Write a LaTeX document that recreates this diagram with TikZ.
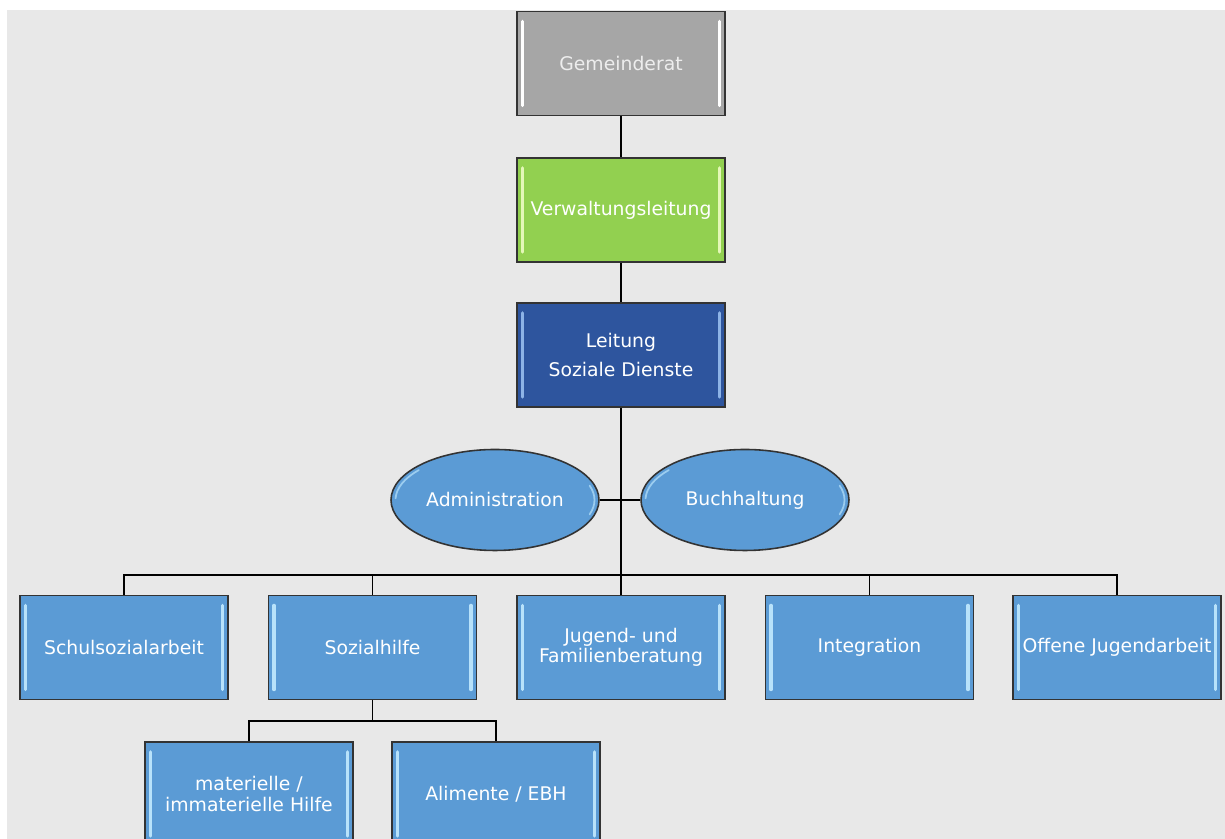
\documentclass[tikz,border=0pt]{standalone}
\usepackage{fontspec}
\usetikzlibrary{shapes.geometric}
\newfontfamily\orgfont{DejaVu Sans}
\definecolor{bggray}{HTML}{E8E8E8}
\definecolor{boxgray}{HTML}{A6A6A6}
\definecolor{boxgreen}{HTML}{92D050}
\definecolor{boxnavy}{HTML}{2E559E}
\definecolor{boxblue}{HTML}{5B9BD5}
\definecolor{hlblue}{HTML}{B8E2FA}
\definecolor{hlgreen}{HTML}{E4F7B8}
\definecolor{hlnavy}{HTML}{8DB3E6}
\tikzset{
	hlcolor/.store in=\hlcol, hlcolor=white,
	orgbox/.style={rectangle, draw=black!80, line width=0.9pt, fill=boxblue,
		minimum width=4.16cm, minimum height=2.08cm, inner sep=0pt,
		text=white, align=center, font=\orgfont\fontsize{10.7}{16}\selectfont,
		path picture={
			\draw[\hlcol, line width=2pt, line cap=round]
				([xshift=0.11cm,yshift=-0.2cm]path picture bounding box.north west) --
				([xshift=0.11cm,yshift=0.2cm]path picture bounding box.south west)
				([xshift=-0.11cm,yshift=-0.2cm]path picture bounding box.north east) --
				([xshift=-0.11cm,yshift=0.2cm]path picture bounding box.south east);
		}},
	orgoval/.style={ellipse, draw=black!80, line width=0.9pt, fill=boxblue,
		minimum width=4.16cm, minimum height=2.02cm, inner sep=0pt,
		text=white, font=\orgfont\fontsize{10.7}{16}\selectfont,
		path picture={
			\draw[hlblue!70!boxblue, line width=1pt, line cap=round]
				([shift={(140:1.99cm and 0.93cm)}]path picture bounding box.center)
				arc[start angle=140, end angle=178, x radius=1.99cm, y radius=0.93cm]
				([shift={(-18:1.99cm and 0.93cm)}]path picture bounding box.center)
				arc[start angle=-18, end angle=18, x radius=1.99cm, y radius=0.93cm];
		}},
	link/.style={draw=black, line width=1.1pt}
}
\begin{document}
\begin{tikzpicture}
	\useasboundingbox (0,0) rectangle (24.5,16.78);
	\clip (0,0) rectangle (24.5,16.78);
	\fill[bggray] (0.14,0) rectangle (24.5,16.58);
	% upper chain
	\node[orgbox, fill=boxgray, text=white!93!black] at (12.42,15.51) (gem) {Gemeinderat};
	\node[orgbox, fill=boxgreen, hlcolor=hlgreen] at (12.42,12.58) (verw) {Verwaltungsleitung};
	\node[orgbox, fill=boxnavy, hlcolor=hlnavy] at (12.42,9.68) (leit) {Leitung\\Soziale Dienste};
	% staff
	\node[orgoval] at (9.9,6.78) (admin) {Administration};
	\node[orgoval] at (14.9,6.78) (buch) {Buchhaltung};
	% departments
	\node[orgbox, hlcolor=hlblue] at (2.48,3.83) (schul) {Schulsozialarbeit};
	\node[orgbox, hlcolor=hlblue] at (7.45,3.83) (sozial) {Sozialhilfe};
	\node[orgbox, hlcolor=hlblue] at (12.42,3.83) (jugend) {Jugend- und\\[-0.16cm]Familienberatung};
	\node[orgbox, hlcolor=hlblue] at (17.39,3.83) (integ) {Integration};
	\node[orgbox, hlcolor=hlblue] at (22.34,3.83) (offen) {Offene Jugendarbeit};
	% Sozialhilfe
	\node[orgbox, hlcolor=hlblue] at (4.98,0.9) (mat) {materielle /\\[-0.16cm]immaterielle Hilfe};
	\node[orgbox, hlcolor=hlblue] at (9.92,0.9) (alim) {Alimente / EBH};
	\coordinate (bus) at (12.42,5.28);
	\coordinate (sbus) at (7.45,2.36);
	\path[link] (gem) edge (verw)
	(verw) edge (leit)
	(leit) edge (bus)
	(admin) edge (buch)
	(sozial) edge (sbus);
	\foreach \dept in {schul,sozial,jugend,integ,offen}
		\draw[link] (bus) -| (\dept.north);
	\foreach \sub in {mat,alim}
		\draw[link] (sbus) -| (\sub.north);
\end{tikzpicture}
\end{document}
